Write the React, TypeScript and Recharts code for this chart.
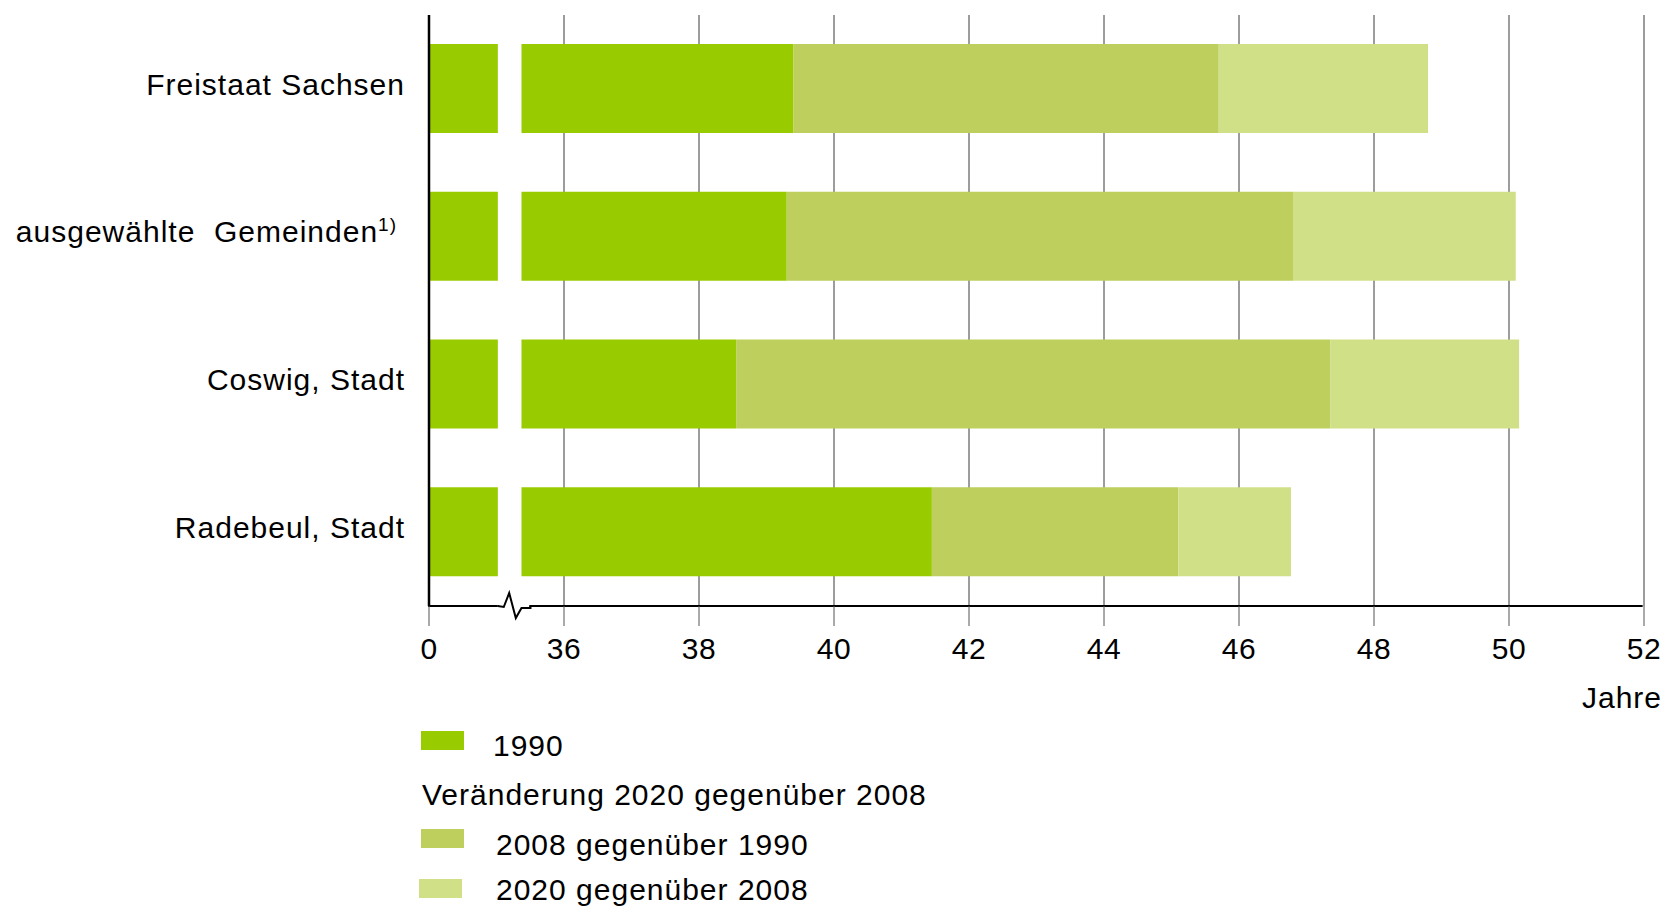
import React from "react";
import {
  Bar,
  BarChart,
  CartesianGrid,
  ReferenceArea,
  XAxis,
  YAxis,
} from "recharts";

// Durchschnittsalter (Jahre) — 1990 / 2008 / 2020, gestapelt als Veränderung
const categories = ["Freistaat Sachsen", "ausgewählte  Gemeinden", "Coswig, Stadt", "Radebeul, Stadt"];
const footnotes = ["", "1)", "", ""];
const age1990 = [39.4, 39.3, 38.55, 41.45];
const age2008 = [45.7, 46.8, 47.35, 45.1];
const age2020 = [48.8, 50.1, 50.15, 46.77];

// Achse mit Bruch: der Wert 34 steht für die 0
const X_MIN = 34;
const X_MAX = 52;
const xTicks = [34, 36, 38, 40, 42, 44, 46, 48, 50, 52];
const xTickLabels = ["0", "36", "38", "40", "42", "44", "46", "48", "50", "52"];
const BREAK_FROM = 35.02;
const BREAK_TO = 35.37;

const COLORS = { y1990: "#99CC00", d2008: "#BECF5E", d2020: "#D0E087" };
const FONT = "'Liberation Sans', Arial, sans-serif";

// 1990-Balken wird am Achsenbruch geteilt: Stummel | Lücke | Rest
const rows = categories.map((name, i) => ({
  name,
  stub: BREAK_FROM,
  gap: BREAK_TO - BREAK_FROM,
  y1990: age1990[i] - BREAK_TO,
  d2008: age2008[i] - age1990[i],
  d2020: age2020[i] - age2008[i],
}));

function CategoryTick(props: any) {
  const { x, y, payload, index } = props;
  const note = footnotes[index];
  return (
    <text
      x={note ? x - 8 : x}
      y={y - 5}
      dy="0.355em"
      textAnchor="end"
      fontFamily={FONT}
      fontSize={30}
      letterSpacing={1}
      fill="#000"
      style={{ whiteSpace: "pre" }}
    >
      {payload.value}
      {note && (
        <tspan fontSize={19} dy={-11} letterSpacing={1}>
          {note}
        </tspan>
      )}
    </text>
  );
}

// x-Achsenlinie (unterer Rand der Fläche)
function AxisLine(props: any) {
  const { x, y, width, height } = props;
  const base = y + height;
  return <line x1={x - 1} x2={x + width} y1={base} y2={base} stroke="#000" strokeWidth={2} />;
}

// Zickzack im Achsenbruch
function BreakMark(props: any) {
  const { x, y, width, height } = props;
  const b = y + height;
  const w = width;
  return (
    <path
      d={`M${x},${b} L${x + w * 0.25},${b + 1} L${x + w * 0.48},${b - 13} L${x + w * 0.76},${b + 12} L${x + w},${b + 2} L${x + w + 9},${b + 2} L${x + w + 9},${b}`}
      fill="none"
      stroke="#000"
      strokeWidth={2}
    />
  );
}

const legendText: React.CSSProperties = {
  position: "absolute",
  fontFamily: FONT,
  fontSize: 30,
  letterSpacing: 1,
  lineHeight: "34px",
  height: 34,
  whiteSpace: "nowrap",
  color: "#000",
};

export default function App() {
  return (
    <div
      style={{
        position: "absolute",
        left: 0,
        top: 0,
        width: 1665,
        height: 909,
        background: "#fff",
        overflow: "hidden",
      }}
    >
      <BarChart
        width={1665}
        height={909}
        data={rows}
        layout="vertical"
        barSize={89}
        margin={{ top: 15, right: 21, bottom: 243, left: 9 }}
      >
        <CartesianGrid horizontal={false} stroke="#3a3a3a" strokeWidth={1} />
        <XAxis
          type="number"
          domain={[X_MIN, X_MAX]}
          ticks={xTicks}
          allowDataOverflow
          interval={0}
          height={60}
          stroke="#555"
          axisLine={false}
          tickLine={{ stroke: "#555" }}
          tickSize={20}
          tickMargin={12}
          tick={{ fill: "#000", fontSize: 30, fontFamily: FONT, letterSpacing: 0.5 }}
          tickFormatter={(v: number) => xTickLabels[xTicks.indexOf(v)]}
        />
        <YAxis
          type="category"
          dataKey="name"
          width={420}
          axisLine={{ stroke: "#000", strokeWidth: 2.5 }}
          tickLine={false}
          tickSize={0}
          tickMargin={24}
          tick={<CategoryTick />}
        />
        <Bar dataKey="stub" stackId="a" fill={COLORS.y1990} isAnimationActive={false} />
        <Bar dataKey="gap" stackId="a" fill="#fff" fillOpacity={0} isAnimationActive={false} />
        <Bar dataKey="y1990" stackId="a" fill={COLORS.y1990} isAnimationActive={false} />
        <Bar dataKey="d2008" stackId="a" fill={COLORS.d2008} isAnimationActive={false} />
        <Bar dataKey="d2020" stackId="a" fill={COLORS.d2020} isAnimationActive={false} />
        <ReferenceArea x1={X_MIN} x2={BREAK_FROM} ifOverflow="visible" shape={<AxisLine />} />
        <ReferenceArea x1={BREAK_FROM} x2={BREAK_TO} ifOverflow="visible" shape={<BreakMark />} />
        <ReferenceArea x1={BREAK_TO + 0.13} x2={X_MAX - 0.02} ifOverflow="visible" shape={<AxisLine />} />
      </BarChart>

      {/* Einheit */}
      <div style={{ ...legendText, right: 3, top: 681 }}>Jahre</div>

      {/* Legende */}
      <div style={{ position: "absolute", left: 421, top: 731, width: 43, height: 19, background: COLORS.y1990 }} />
      <div style={{ ...legendText, left: 493, top: 729 }}>1990</div>
      <div style={{ ...legendText, left: 422, top: 778 }}>Veränderung 2020 gegenüber 2008</div>
      <div style={{ position: "absolute", left: 421, top: 829, width: 43, height: 19, background: COLORS.d2008 }} />
      <div style={{ ...legendText, left: 496, top: 828 }}>2008 gegenüber 1990</div>
      <div style={{ position: "absolute", left: 419, top: 879, width: 43, height: 19, background: COLORS.d2020 }} />
      <div style={{ ...legendText, left: 496, top: 873 }}>2020 gegenüber 2008</div>
    </div>
  );
}
